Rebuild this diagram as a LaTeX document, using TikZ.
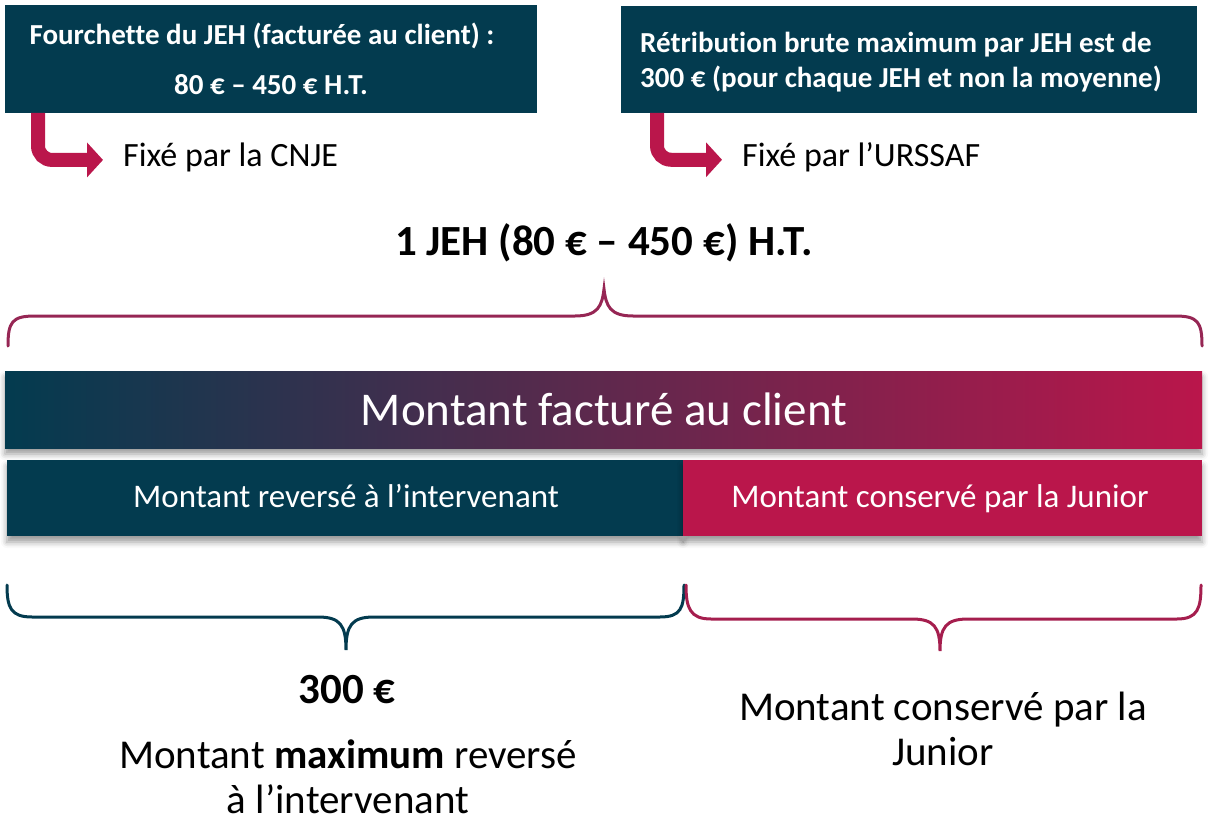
\documentclass[tikz,border=0pt]{standalone}
\usepackage{fontspec}
\setmainfont[Ligatures=NoCommon]{Carlito}
\usetikzlibrary{arrows.meta,shadows.blur}
\definecolor{teal}{RGB}{3,59,79}
\definecolor{crim}{RGB}{186,22,75}
\definecolor{brace}{RGB}{150,38,84}
\definecolor{bracer}{RGB}{165,30,78}
\tikzset{
  boxtext/.style={text=white,anchor=base,inner sep=0pt,font=\fontsize{29}{32}\selectfont\bfseries},
  bentarrow/.style={draw=crim,line width=14pt,rounded corners=14pt,-{Triangle[length=16pt,width=34pt]}},
  fixlabel/.style={anchor=base west,inner sep=0pt,font=\fontsize{34}{38}\selectfont,text=black},
  barshadow/.style={blur shadow={shadow xshift=0pt,shadow yshift=-6pt,shadow opacity=40,shadow blur radius=6pt}},
  bartext/.style={text=white,anchor=base,inner sep=0pt,font=\fontsize{33}{36}\selectfont},
  bracepath/.style={line width=3pt,line cap=round},
  bigtext/.style={font=\fontsize{41}{46}\selectfont,text=black,anchor=base,inner sep=0pt},
  boldtext/.style={font=\fontsize{43}{46}\selectfont\bfseries,text=black,anchor=base,inner sep=0pt},
}
\begin{document}
\begin{tikzpicture}[x=1pt,y=-1pt]
\useasboundingbox (0,0) rectangle (1212,826);
% top boxes
\fill[teal] (5,5) rectangle (537,113);
\node[boxtext] (b1a) at (262,45) {Fourchette du JEH (facturée au client) :};
\node[boxtext] (b1b) at (271,95) {80 € – 450 € H.T.};
\fill[teal] (621,6) rectangle (1197,113);
\node[boxtext,anchor=base west] (b2a) at (640,53) {Rétribution brute maximum par JEH est de};
\node[boxtext,anchor=base west] (b2b) at (640,88) {300 € (pour chaque JEH et non la moyenne)};
\coordinate (a1) at (38,113);
\coordinate (a2) at (657,113);
\node[fixlabel] (f1) at (123,167) {Fixé par la CNJE};
\node[fixlabel] (f2) at (742,167) {Fixé par l’URSSAF};
\draw[bentarrow] (a1) |- ([xshift=-20pt,yshift=-2pt]f1.west);
\draw[bentarrow] (a2) |- ([xshift=-20pt,yshift=-2pt]f2.west);
% title
\node[boldtext] (jeh) at (604,256) {1 JEH (80 € – 450 €) H.T.};
% top brace
\draw[brace,bracepath] (8,346) .. controls (8,322) and (12,316) .. (35,316) -- (575,316) .. controls (598,316) and (602,306) .. (604,289)
  .. controls (606,306) and (610,316) .. (633,316) -- (1175,316) .. controls (1198,316) and (1202,322) .. (1202,346);
% gradient bar
\shade[left color=teal,right color=crim,barshadow] (5,371) rectangle (1202,448);
\node[bartext,font=\fontsize{47}{50}\selectfont] (mf) at (604,425) {Montant facturé au client};
% split bar
\fill[teal,barshadow] (7,460) rectangle (683,536);
\fill[crim,barshadow] (683,460) rectangle (1202,536);
\node[bartext] (mr) at (346,507) {Montant reversé à l’intervenant};
\node[bartext] (mc) at (940,507) {Montant conservé par la Junior};
% bottom braces
\draw[teal,bracepath] (7,585) .. controls (7,608) and (11,617) .. (32,617) -- (318,617) .. controls (340,617) and (346,625) .. (346,650)
  .. controls (346,625) and (352,617) .. (374,617) -- (660,617) .. controls (681,617) and (684,608) .. (684,585);
\draw[bracer,bracepath] (686,585) .. controls (686,608) and (690,619) .. (711,619) -- (912,619) .. controls (934,619) and (940,627) .. (940,651)
  .. controls (940,627) and (946,619) .. (968,619) -- (1177,619) .. controls (1198,619) and (1201,608) .. (1201,585);
% bottom texts
\node[boldtext] (t300) at (347,703) {300 €};
\node[bigtext] (tl1) at (348,768) {Montant \textbf{maximum} reversé};
\node[bigtext] (tl2) at (348,813) {à l’intervenant};
\node[bigtext] (tr1) at (943,720) {Montant conservé par la};
\node[bigtext] (tr2) at (943,765) {Junior};
\end{tikzpicture}
\end{document}
